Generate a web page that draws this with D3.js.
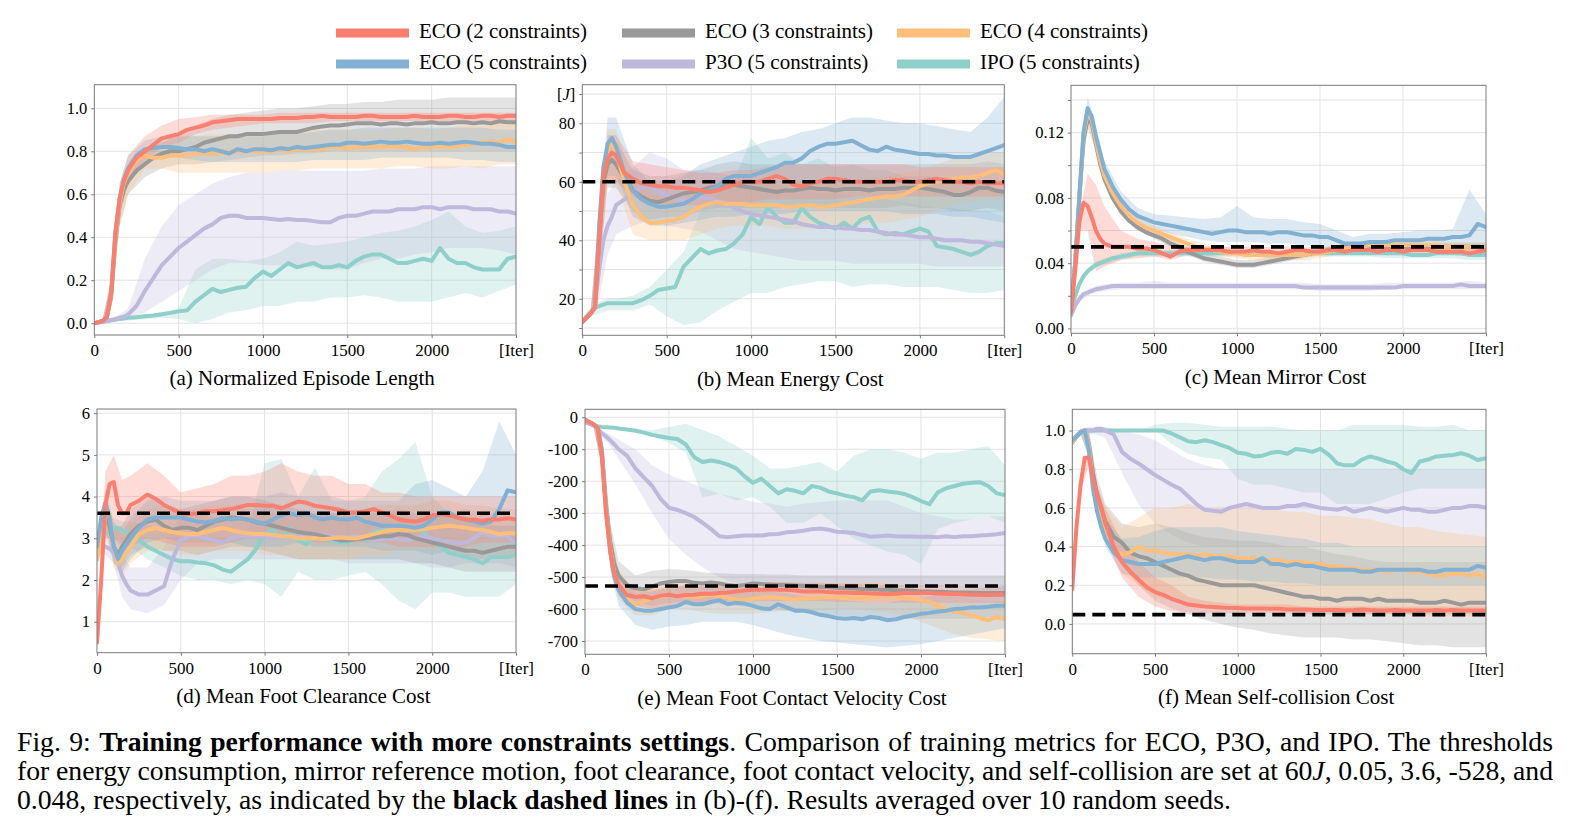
<!DOCTYPE html>
<html><head><meta charset="utf-8">
<script src="https://cdn.jsdelivr.net/npm/d3@7"></script>
<style>
body{margin:0;background:#fff;width:1574px;height:834px;overflow:hidden;position:relative;font-family:"Liberation Serif","Times New Roman",serif;}
svg{position:absolute;left:0;top:0}
#cap{position:absolute;left:17px;top:727px;width:1536px;font-size:27.7px;line-height:29px;color:#000}
#cap .ln{display:block;white-space:nowrap;width:max-content}
</style></head><body>
<div id="cap">
<div class="ln j">Fig. 9: <b>Training performance with more constraints settings</b>. Comparison of training metrics for ECO, P3O, and IPO. The thresholds</div>
<div class="ln j">for energy consumption, mirror reference motion, foot clearance, foot contact velocity, and self-collision are set at 60<i>J</i>, 0.05, 3.6, -528, and</div>
<div class="ln">0.048, respectively, as indicated by the <b>black dashed lines</b> in (b)-(f). Results averaged over 10 random seeds.</div>
</div>
<script>
// ---------- shared x grids ----------
const ITER = [0,25,50,75,100,125,150,175,200,250,300,350,400,450,500,550,600,650,700,750,800,850,900,950,1000,1050,1100,1150,1200,1250,1300,1350,1400,1450,1500,1550,1600,1650,1700,1750,1800,1850,1900,1950,2000,2050,2100,2150,2200,2250,2300,2350,2400,2450,2500];
const ITER_BAND = [0,50,100,150,200,300,400,500,600,700,800,900,1000,1100,1200,1300,1400,1500,1600,1700,1800,1900,2000,2100,2200,2300,2400,2500];
const X_TICKS = [0,500,1000,1500,2000,2500];
const SERIES_KEYS = ["ECO2","ECO3","ECO4","ECO5","P3O","IPO"];
const SERIES_NAMES = ["ECO (2 constraints)","ECO (3 constraints)","ECO (4 constraints)","ECO (5 constraints)","P3O (5 constraints)","IPO (5 constraints)"];

// ---------- (a) Normalized Episode Length ----------
const A_ECO2 = [0,0.005,0.01,0.03,0.14,0.42,0.58,0.66,0.71, 0.77,0.8,0.83,0.86,0.87,0.88,0.9,0.91,0.92,0.935, 0.94,0.945,0.95,0.95,0.95,0.95,0.95,0.955,0.955,0.955, 0.96,0.96,0.965,0.96,0.96,0.96,0.96,0.965,0.965,0.96, 0.96,0.96,0.96,0.965,0.96,0.96,0.96,0.965,0.965,0.96, 0.96,0.965,0.965,0.96,0.965,0.965];
const A_ECO3 = [0,0.005,0.01,0.03,0.12,0.38,0.55,0.62,0.66, 0.71,0.74,0.77,0.79,0.8,0.8,0.81,0.82,0.84,0.85, 0.86,0.87,0.87,0.88,0.88,0.88,0.885,0.89,0.89,0.89, 0.9,0.91,0.915,0.92,0.92,0.925,0.93,0.93,0.93,0.925, 0.93,0.93,0.925,0.93,0.93,0.935,0.93,0.93,0.935,0.935, 0.93,0.935,0.93,0.94,0.935,0.935];
const A_ECO4 = [0,0.005,0.01,0.03,0.13,0.4,0.56,0.65,0.7, 0.76,0.78,0.77,0.77,0.78,0.78,0.78,0.79,0.79,0.79, 0.79,0.8,0.8,0.8,0.8,0.8,0.8,0.81,0.8,0.81, 0.81,0.81,0.81,0.82,0.82,0.815,0.82,0.82,0.82,0.82, 0.825,0.82,0.82,0.81,0.82,0.82,0.825,0.82,0.825,0.83, 0.835,0.84,0.845,0.84,0.855,0.845];
const A_ECO5 = [0,0.005,0.01,0.03,0.14,0.42,0.58,0.67,0.72, 0.78,0.81,0.815,0.82,0.82,0.815,0.81,0.81,0.8,0.81, 0.8,0.79,0.81,0.8,0.81,0.81,0.805,0.815,0.81,0.82, 0.815,0.82,0.825,0.83,0.83,0.84,0.84,0.835,0.84,0.845, 0.84,0.84,0.845,0.84,0.835,0.835,0.84,0.835,0.84,0.845, 0.84,0.835,0.835,0.83,0.82,0.82];
const A_P3O = [0,0.003,0.006,0.01,0.015,0.02,0.025,0.03,0.04, 0.08,0.15,0.21,0.27,0.31,0.35,0.38,0.41,0.44,0.46, 0.49,0.5,0.5,0.49,0.49,0.49,0.485,0.48,0.485,0.48, 0.48,0.475,0.47,0.47,0.49,0.5,0.5,0.51,0.52,0.52, 0.52,0.53,0.53,0.53,0.54,0.54,0.53,0.54,0.54,0.54, 0.53,0.53,0.53,0.52,0.52,0.51];
const A_IPO = [0,0.003,0.006,0.01,0.013,0.016,0.02,0.022,0.025, 0.028,0.032,0.036,0.042,0.048,0.055,0.06,0.1,0.13,0.16, 0.145,0.155,0.165,0.17,0.21,0.24,0.22,0.25,0.28,0.26, 0.27,0.28,0.26,0.26,0.27,0.26,0.29,0.31,0.32,0.32, 0.3,0.28,0.28,0.29,0.3,0.29,0.35,0.3,0.28,0.28, 0.26,0.25,0.25,0.25,0.3,0.31];
const A_ECO2_LO = [0,0.005,0.1,0.5,0.65, 0.75,0.82,0.84,0.88,0.9,0.91,0.92,0.93,0.93,0.93, 0.93,0.94,0.94,0.94,0.94,0.94,0.94,0.94,0.94,0.94, 0.94,0.94,0.94];
const A_ECO2_HI = [0,0.02,0.2,0.65,0.78, 0.87,0.92,0.95,0.96,0.97,0.97,0.97,0.97,0.98,0.98, 0.98,0.98,0.98,0.98,0.98,0.98,0.98,0.98,0.98,0.98, 0.98,0.98,0.98];
const A_ECO3_LO = [0,0.005,0.08,0.45,0.6, 0.68,0.72,0.74,0.74,0.75,0.76,0.77,0.78,0.78,0.79, 0.79,0.8,0.8,0.8,0.8,0.8,0.8,0.8,0.8,0.8, 0.8,0.8,0.8];
const A_ECO3_HI = [0,0.02,0.2,0.62,0.72, 0.8,0.84,0.88,0.92,0.95,0.97,0.98,0.99,1.0,1.0, 1.01,1.02,1.02,1.03,1.03,1.04,1.04,1.04,1.05,1.05, 1.05,1.05,1.05];
const A_ECO4_LO = [0,0.005,0.08,0.45,0.6, 0.72,0.72,0.7,0.7,0.7,0.7,0.7,0.7,0.71,0.71, 0.72,0.72,0.72,0.72,0.72,0.73,0.73,0.72,0.72,0.73, 0.72,0.74,0.74];
const A_ECO4_HI = [0,0.02,0.2,0.62,0.75, 0.82,0.84,0.86,0.87,0.88,0.88,0.88,0.88,0.9,0.9, 0.9,0.9,0.9,0.9,0.9,0.91,0.91,0.9,0.91,0.92, 0.92,0.93,0.94];
const A_ECO5_LO = [0,0.005,0.1,0.5,0.65, 0.76,0.77,0.77,0.76,0.75,0.75,0.75,0.75,0.75,0.75, 0.76,0.76,0.76,0.76,0.77,0.77,0.77,0.77,0.77,0.76, 0.76,0.75,0.75];
const A_ECO5_HI = [0,0.02,0.2,0.65,0.78, 0.85,0.87,0.87,0.87,0.87,0.87,0.87,0.87,0.88,0.88, 0.89,0.9,0.9,0.91,0.91,0.91,0.91,0.91,0.91,0.91, 0.91,0.9,0.9];
const A_P3O_LO = [0,0.003,0.01,0.015,0.02, 0.05,0.1,0.15,0.2,0.25,0.28,0.28,0.27,0.27,0.26, 0.26,0.25,0.25,0.28,0.3,0.3,0.32,0.33,0.35,0.35, 0.35,0.34,0.32];
const A_P3O_HI = [0,0.01,0.02,0.04,0.07, 0.3,0.45,0.55,0.6,0.65,0.68,0.7,0.7,0.71,0.71, 0.71,0.71,0.71,0.71,0.72,0.72,0.72,0.73,0.73,0.73, 0.73,0.73,0.73];
const A_IPO_LO = [0,0.003,0.008,0.01,0.012, 0.018,0.025,0.02,0.0,0.02,0.05,0.06,0.08,0.08,0.1, 0.1,0.12,0.12,0.13,0.12,0.1,0.1,0.1,0.12,0.14, 0.12,0.15,0.18];
const A_IPO_HI = [0,0.01,0.015,0.02,0.03, 0.04,0.05,0.07,0.25,0.3,0.3,0.29,0.3,0.33,0.38, 0.36,0.37,0.38,0.4,0.42,0.43,0.45,0.48,0.52,0.45, 0.42,0.43,0.45];

// ---------- (b) Mean Energy Cost ----------
const B_ECO2 = [12,13.5,15,17,40,62,68,70,69, 63,61,59.5,59,58.5,58.5,58,58,57.5,57, 56.5,57,58,59,60,60,60,61,62,61, 59,58.5,59.5,60,61,61,60.5,60,60,60, 60,60,60.5,60.5,60,60,60.5,61,60.5,60, 60,59.5,60,59.5,59.5,59.5];
const B_ECO3 = [12,13.5,15,17,40,60,66,67.5,66, 61,57,55,53.5,53,54,55,56,56.5,57, 58,58.5,59,59,58.5,58,57.5,57,56.5,57, 57,57.5,58,57.5,57.5,57,57.5,57.5,57.5,57, 57.5,57.5,57.5,58,58,58,57.5,57,56.5,55.5, 55.5,56.5,58,58,57,56.5];
const B_ECO4 = [12,13.5,15,17,42,64,71,73,70, 60,52,48,46,46,46.5,47,48,50,51.5, 52.5,53,52.5,52.5,52.5,52,52,52,52,51.5, 51.5,52,52,51.5,51.5,52,52.5,53,53.5,54, 54.5,55,55,55.5,57,58.5,59.5,60,60.5,61, 61.5,61.5,62,63,64,62.5];
const B_ECO5 = [12,13.5,15,17,45,65,73,75,72, 63,57,54,52.5,51.5,51.5,52,52.5,54,56, 57,58.5,61,62,62,62,63,64,65,66.5, 66.5,68,70.5,72,73,73,73.5,74,72.5,71, 70.5,72,71,70.5,70,69.5,69.5,69,69,68.5, 68.5,68.5,69.5,70.5,71.5,72.5];
const B_P3O = [12,13.5,15,18,30,40,45,48,52, 54,56,58,58.5,56.5,55.5,54.5,53.5,54,54.5, 54.5,53.5,52.5,51,50,49,48.5,48,47.5,47, 46.5,45.5,45,44.5,44.5,44.5,44,44,43.5,43.5, 43,42.5,42,42,41.5,41,41,40.5,40,40, 40,39.5,39.5,39,38.5,38];
const B_IPO = [12,14,15.5,17,17.5,18,18.5,18.5,18.5, 18.5,18.5,19.5,21,23,23.5,24,31,34,37, 35.5,36.5,37,39,42,48,45.5,51.5,48,46, 46,51,48,46,45,44,46,44,47,48, 43,42,42.5,42,43,44,43,38,37.5,37, 36,35,36,38,39,39];
const B_ECO2_LO = [12,14,30,60,60, 55,53,52,52,52,52,52,53,54,54, 54,54,54,55,55,55,55,55,55,55, 55,55,55];
const B_ECO2_HI = [12,16,48,76,76, 67,66,65,64,63,63,64,64,65,66, 66,66,66,66,66,66,66,65,65,65, 65,65,65];
const B_ECO3_LO = [12,14,30,58,58, 50,47,48,48,50,51,51,51,51,51, 52,51,51,51,51,51,52,51,51,50, 50,51,50];
const B_ECO3_HI = [12,16,48,74,74, 64,62,62,63,64,66,67,66,66,66, 66,66,66,66,66,66,66,66,66,66, 66,67,66];
const B_ECO4_LO = [12,14,32,60,60, 42,40,40,40,42,44,45,45,45,44, 44,44,44,45,46,46,47,48,50,52, 53,54,54];
const B_ECO4_HI = [12,16,50,78,78, 60,56,55,57,58,60,60,60,60,60, 60,60,60,60,61,62,63,64,66,68, 69,70,70];
const B_ECO5_LO = [12,14,35,62,62, 48,45,45,46,47,48,48,49,49,49, 50,50,50,50,50,50,49,49,49,48, 48,47,46];
const B_ECO5_HI = [12,16,50,82,82, 66,60,60,62,66,68,70,72,74,75, 77,78,80,82,82,81,80,80,79,78, 77,82,89];
const B_P3O_LO = [12,14,20,35,42, 45,47,45,44,43,40,37,36,35,34, 33,33,33,32,32,32,32,32,31,31, 31,31,31];
const B_P3O_HI = [12,16,38,56,60, 65,70,68,64,64,63,62,61,60,58, 57,56,56,55,55,54,53,52,51,51, 50,50,48];
const B_IPO_LO = [12,14,15,16,16, 16,18,14,11,12,16,19,22,22,24, 25,26,26,24,25,25,24,24,24,23, 22,22,23];
const B_IPO_HI = [12,17,19,20,20, 21,24,30,36,50,56,60,75,68,70, 66,68,65,66,64,64,62,62,62,60, 60,58,56];

// ---------- (c) Mean Mirror Cost ----------
const C_ECO2 = [0.01,0.035,0.065,0.077,0.075,0.068,0.06,0.055,0.052, 0.05,0.05,0.05,0.049,0.049,0.048,0.046,0.044,0.047,0.048, 0.048,0.048,0.048,0.048,0.047,0.047,0.047,0.048,0.047,0.047, 0.046,0.047,0.048,0.048,0.047,0.047,0.048,0.048,0.047,0.048, 0.048,0.048,0.047,0.048,0.048,0.047,0.048,0.048,0.048,0.047, 0.047,0.047,0.047,0.046,0.047,0.048];
const C_ECO3 = [0.01,0.04,0.08,0.115,0.128,0.126,0.113,0.101,0.092, 0.08,0.072,0.066,0.062,0.059,0.057,0.055,0.052,0.05,0.047, 0.045,0.043,0.042,0.041,0.04,0.039,0.039,0.039,0.04,0.041, 0.042,0.043,0.044,0.045,0.046,0.047,0.048,0.049,0.05,0.05, 0.05,0.05,0.05,0.05,0.05,0.05,0.05,0.05,0.05,0.05, 0.05,0.05,0.05,0.05,0.05,0.05];
const C_ECO4 = [0.01,0.04,0.08,0.118,0.132,0.128,0.115,0.103,0.094, 0.083,0.075,0.069,0.065,0.062,0.06,0.058,0.056,0.054,0.052, 0.05,0.049,0.048,0.047,0.046,0.046,0.045,0.045,0.045,0.045, 0.045,0.045,0.045,0.045,0.046,0.046,0.047,0.048,0.049,0.05, 0.05,0.051,0.051,0.051,0.051,0.051,0.051,0.051,0.051,0.051, 0.05,0.05,0.05,0.05,0.05,0.05];
const C_ECO5 = [0.01,0.04,0.08,0.12,0.135,0.13,0.118,0.108,0.098, 0.087,0.079,0.073,0.069,0.067,0.065,0.064,0.063,0.062,0.061, 0.06,0.059,0.058,0.059,0.06,0.06,0.059,0.059,0.059,0.058, 0.059,0.059,0.058,0.057,0.057,0.056,0.056,0.054,0.052,0.052, 0.052,0.053,0.053,0.053,0.054,0.054,0.054,0.054,0.055,0.055, 0.055,0.056,0.056,0.057,0.064,0.062];
const C_P3O = [0.008,0.014,0.018,0.021,0.022,0.023,0.024,0.0245,0.025, 0.026,0.026,0.026,0.026,0.026,0.026,0.026,0.026,0.026,0.026, 0.026,0.026,0.026,0.026,0.026,0.026,0.026,0.026,0.026,0.026, 0.026,0.026,0.026,0.025,0.025,0.025,0.025,0.025,0.025,0.025, 0.025,0.025,0.025,0.025,0.025,0.026,0.026,0.026,0.026,0.026, 0.026,0.026,0.027,0.026,0.026,0.026];
const C_IPO = [0.01,0.02,0.027,0.032,0.035,0.037,0.039,0.04,0.041, 0.043,0.044,0.045,0.046,0.046,0.046,0.046,0.046,0.046,0.046, 0.046,0.046,0.046,0.046,0.046,0.046,0.046,0.046,0.046,0.045, 0.045,0.045,0.045,0.045,0.046,0.046,0.046,0.046,0.046,0.046, 0.046,0.046,0.046,0.046,0.046,0.046,0.045,0.045,0.045,0.046, 0.046,0.046,0.046,0.045,0.045,0.045];
const C_ECO2_LO = [0.009,0.06,0.06,0.035,0.038, 0.042,0.043,0.044,0.042,0.045,0.046,0.046,0.045,0.045,0.045, 0.045,0.045,0.045,0.046,0.046,0.046,0.046,0.046,0.046,0.045, 0.045,0.044,0.045];
const C_ECO2_HI = [0.011,0.07,0.095,0.088,0.075, 0.06,0.055,0.053,0.051,0.05,0.05,0.05,0.05,0.05,0.05, 0.05,0.05,0.05,0.05,0.05,0.05,0.05,0.05,0.05,0.05, 0.05,0.049,0.05];
const C_ECO3_LO = [0.009,0.077,0.123,0.109,0.088, 0.069,0.06,0.055,0.05,0.045,0.041,0.039,0.037,0.037,0.039, 0.041,0.043,0.045,0.047,0.048,0.048,0.048,0.048,0.048,0.048, 0.048,0.048,0.048];
const C_ECO3_HI = [0.011,0.083,0.133,0.117,0.096, 0.075,0.065,0.06,0.055,0.05,0.046,0.044,0.042,0.042,0.044, 0.046,0.048,0.049,0.051,0.052,0.052,0.052,0.052,0.052,0.052, 0.052,0.052,0.052];
const C_ECO4_LO = [0.009,0.077,0.127,0.111,0.09, 0.072,0.062,0.057,0.053,0.049,0.046,0.044,0.043,0.042,0.042, 0.042,0.042,0.043,0.045,0.047,0.048,0.048,0.048,0.048,0.048, 0.047,0.047,0.047];
const C_ECO4_HI = [0.011,0.083,0.137,0.119,0.098, 0.078,0.068,0.063,0.059,0.055,0.052,0.05,0.049,0.048,0.048, 0.048,0.048,0.049,0.051,0.053,0.054,0.054,0.054,0.054,0.054, 0.053,0.053,0.053];
const C_ECO5_LO = [0.009,0.076,0.129,0.112,0.093, 0.075,0.065,0.061,0.058,0.056,0.054,0.053,0.053,0.053,0.052, 0.052,0.051,0.05,0.049,0.048,0.048,0.048,0.049,0.049,0.049, 0.05,0.05,0.052];
const C_ECO5_HI = [0.011,0.084,0.142,0.124,0.103, 0.084,0.074,0.07,0.069,0.068,0.067,0.068,0.075,0.068,0.067, 0.067,0.065,0.064,0.06,0.056,0.058,0.058,0.059,0.06,0.06, 0.061,0.085,0.07];
const C_P3O_LO = [0.007,0.016,0.02,0.022,0.023, 0.024,0.024,0.024,0.024,0.024,0.024,0.024,0.024,0.024,0.024, 0.024,0.024,0.023,0.023,0.023,0.023,0.024,0.024,0.024,0.024, 0.024,0.024,0.024];
const C_P3O_HI = [0.009,0.02,0.024,0.026,0.027, 0.028,0.028,0.029,0.028,0.028,0.028,0.028,0.028,0.028,0.028, 0.028,0.028,0.027,0.027,0.027,0.027,0.028,0.028,0.028,0.028, 0.028,0.029,0.028];
const C_IPO_LO = [0.009,0.025,0.033,0.037,0.039, 0.042,0.044,0.044,0.044,0.044,0.044,0.044,0.044,0.044,0.043, 0.043,0.044,0.044,0.044,0.044,0.044,0.043,0.043,0.043,0.043, 0.043,0.042,0.042];
const C_IPO_HI = [0.011,0.029,0.037,0.041,0.043, 0.046,0.048,0.048,0.048,0.048,0.048,0.048,0.048,0.048,0.047, 0.047,0.048,0.048,0.048,0.048,0.048,0.048,0.048,0.048,0.048, 0.048,0.048,0.048];

// ---------- (d) Mean Foot Clearance Cost ----------
const D_ECO2 = [0.5,2.0,3.8,4.3,4.35,3.8,3.6,3.6,3.8, 3.9,4.05,3.95,3.8,3.7,3.6,3.58,3.6,3.65,3.65, 3.68,3.7,3.75,3.8,3.8,3.78,3.78,3.72,3.8,3.88, 3.85,3.78,3.75,3.72,3.68,3.62,3.62,3.65,3.7,3.62, 3.55,3.45,3.42,3.4,3.45,3.55,3.58,3.55,3.5,3.45, 3.45,3.42,3.45,3.45,3.48,3.45];
const D_ECO3 = [2.9,3.3,3.6,3.3,2.8,2.6,2.8,2.95,3.1, 3.3,3.4,3.45,3.3,3.2,3.25,3.25,3.2,3.3,3.4, 3.45,3.5,3.48,3.45,3.38,3.35,3.3,3.25,3.2,3.15, 3.12,3.1,3.05,3.0,2.95,2.95,2.98,3.0,3.02,3.05, 3.05,3.1,3.08,3.0,2.95,2.9,2.85,2.8,2.75,2.7, 2.7,2.65,2.7,2.75,2.8,2.8];
const D_ECO4 = [2.5,3.0,3.5,3.6,2.8,2.4,2.5,2.65,2.8, 3.1,3.2,3.25,3.2,3.15,3.12,3.1,3.1,3.15,3.2, 3.25,3.2,3.15,3.12,3.1,3.1,3.08,3.05,3.05,3.0, 3.0,3.0,2.98,3.0,3.02,3.0,3.0,3.05,3.1,3.15, 3.2,3.2,3.2,3.2,3.22,3.25,3.28,3.3,3.28,3.25, 3.22,3.2,3.15,3.1,3.12,3.12];
const D_ECO5 = [2.8,3.5,3.85,3.5,2.8,2.5,2.7,2.85,3.0, 3.25,3.45,3.5,3.5,3.5,3.5,3.45,3.4,3.38,3.42, 3.48,3.45,3.48,3.45,3.4,3.35,3.45,3.55,3.6,3.55, 3.6,3.5,3.45,3.5,3.45,3.45,3.5,3.4,3.35,3.3, 3.3,3.3,3.28,3.25,3.3,3.45,3.62,3.62,3.5,3.45, 3.4,3.35,3.4,3.7,4.15,4.1];
const D_P3O = [2.8,2.8,2.8,2.75,2.65,2.4,2.1,1.9,1.75, 1.65,1.65,1.75,1.85,2.5,2.95,3.05,3.05,3.0,2.95, 2.9,3.0,3.05,3.05,3.05,3.05,3.0,3.02,3.05,3.05, 3.08,3.1,3.08,3.05,3.02,3.02,3.05,3.0,2.95,2.98, 3.0,2.98,2.95,3.0,3.05,3.0,2.95,2.92,2.88,2.9, 3.0,3.15,3.05,3.05,3.05,2.85];
const D_IPO = [3.0,3.05,3.1,3.2,3.25,3.25,3.2,3.15,3.1, 2.95,2.8,2.7,2.6,2.5,2.45,2.45,2.42,2.4,2.35, 2.25,2.2,2.35,2.5,2.75,3.1,3.2,3.0,3.25,2.95, 2.85,3.1,3.0,2.95,2.9,2.9,3.05,2.95,3.15,3.2, 3.2,3.2,3.2,3.25,3.15,2.95,2.8,2.65,2.6,2.55, 2.5,2.4,2.55,2.55,2.55,2.6];
const D_ECO2_LO = [0.5,3.0,3.0,2.8,2.8, 3.0,2.9,2.8,2.8,2.8,2.9,3.0,3.0,3.0,3.0, 2.9,2.9,2.9,2.9,2.9,2.8,2.8,2.8,2.8,2.8, 2.9,2.9,2.9];
const D_ECO2_HI = [0.6,4.6,5.0,4.4,4.5, 4.8,4.5,4.1,4.2,4.3,4.5,4.5,4.6,4.8,4.6, 4.5,4.5,4.3,4.3,4.1,4.1,4.0,4.0,4.0,4.0, 4.0,4.0,4.0];
const D_ECO3_LO = [2.7,3.2,2.4,2.3,2.6, 2.8,2.7,2.7,2.6,2.7,2.8,2.8,2.7,2.6,2.5, 2.5,2.5,2.5,2.5,2.5,2.5,2.4,2.4,2.3,2.2, 2.2,2.2,2.2];
const D_ECO3_HI = [3.1,4.0,3.2,3.3,3.7, 4.0,3.8,3.7,3.8,3.9,4.0,4.0,3.9,3.8,3.7, 3.6,3.6,3.6,3.6,3.6,3.7,3.6,3.6,3.5,3.4, 3.3,3.3,3.3];
const D_ECO4_LO = [2.3,3.2,2.3,2.1,2.4, 2.7,2.7,2.6,2.6,2.7,2.7,2.7,2.6,2.6,2.5, 2.5,2.5,2.5,2.6,2.6,2.7,2.7,2.7,2.7,2.6, 2.5,2.5,2.5];
const D_ECO4_HI = [2.7,3.8,3.3,3.2,3.4, 3.7,3.8,3.7,3.7,3.8,3.8,3.7,3.6,3.6,3.5, 3.5,3.5,3.6,3.7,3.8,3.8,3.8,3.9,3.9,3.8, 3.8,3.7,3.7];
const D_ECO5_LO = [2.6,3.4,2.4,2.2,2.5, 2.9,3.0,2.9,2.9,2.9,2.9,2.8,2.8,2.8,2.9, 2.8,2.8,2.8,2.8,2.7,2.7,2.7,2.6,2.7,2.6, 2.5,2.6,2.6];
const D_ECO5_HI = [3.0,4.2,3.4,3.1,3.5, 3.9,4.0,3.9,3.9,3.9,4.0,4.0,4.0,4.1,4.0, 4.0,4.0,3.9,3.9,3.9,3.9,4.3,4.4,4.2,4.0, 4.6,5.8,5.0];
const D_P3O_LO = [2.6,2.6,2.4,1.6,1.3, 1.2,1.4,2.0,2.4,2.5,2.5,2.5,2.5,2.5,2.5, 2.5,2.5,2.4,2.4,2.4,2.4,2.4,2.3,2.3,2.4, 2.4,2.4,2.3];
const D_P3O_HI = [3.0,3.0,2.9,2.6,2.3, 2.3,2.8,3.6,3.6,3.5,3.5,3.5,3.6,3.6,3.6, 3.6,3.6,3.5,3.5,3.5,3.5,3.5,3.5,3.6,3.7, 3.6,3.6,3.5];
const D_IPO_LO = [2.9,3.0,3.0,2.9,2.8, 2.5,2.3,2.1,2.0,2.0,1.9,2.0,1.9,1.6,2.2, 2.0,2.0,2.1,2.2,1.9,1.5,1.3,1.7,1.7,1.6, 1.6,1.6,1.9];
const D_IPO_HI = [3.1,3.3,3.5,3.4,3.4, 3.3,3.2,3.0,3.0,3.0,3.0,3.2,4.8,4.9,4.0, 4.7,3.9,3.9,4.0,4.6,4.9,5.3,4.0,3.6,3.4, 3.4,3.3,3.3];

// ---------- (e) Mean Foot Contact Velocity Cost ----------
const E_ECO2 = [-8,-15,-22,-32,-120,-300,-420,-490,-525, -556,-562,-560,-566,-558,-555,-560,-556,-555,-552, -552,-550,-548,-545,-542,-540,-540,-538,-540,-540, -542,-545,-545,-545,-547,-548,-548,-550,-550,-551, -552,-553,-552,-550,-550,-550,-550,-551,-552,-553, -554,-555,-555,-556,-555,-555];
const E_ECO3 = [-8,-15,-22,-32,-100,-270,-390,-460,-495, -525,-535,-538,-530,-520,-515,-512,-512,-518,-520, -517,-520,-525,-528,-525,-520,-522,-523,-525,-525, -526,-528,-530,-530,-532,-533,-535,-536,-537,-538, -540,-540,-541,-542,-543,-545,-545,-546,-547,-548, -548,-549,-550,-550,-550,-550];
const E_ECO4 = [-8,-15,-22,-32,-110,-280,-410,-490,-530, -570,-585,-575,-565,-560,-556,-558,-560,-562,-560, -555,-560,-565,-570,-570,-568,-565,-563,-565,-568, -570,-568,-566,-565,-562,-562,-565,-565,-565,-563, -560,-558,-562,-565,-568,-572,-578,-590,-600,-608, -612,-620,-628,-635,-625,-632];
const E_ECO5 = [-8,-15,-22,-32,-110,-290,-420,-500,-540, -580,-600,-605,-605,-600,-595,-590,-578,-585,-585, -578,-572,-585,-580,-583,-590,-598,-600,-585,-595, -605,-605,-610,-618,-622,-628,-630,-628,-632,-625, -628,-635,-632,-625,-620,-615,-612,-608,-605,-600, -598,-595,-595,-593,-590,-590];
const E_P3O = [-15,-20,-25,-35,-50,-60,-72,-85,-100, -120,-160,-188,-215,-255,-283,-290,-300,-312,-330, -350,-372,-375,-372,-370,-370,-370,-366,-365,-360, -358,-355,-350,-348,-352,-358,-360,-362,-368,-374, -372,-370,-372,-373,-373,-374,-374,-375,-372,-375, -372,-372,-370,-368,-366,-362];
const E_IPO = [-15,-20,-25,-28,-30,-31,-32,-33,-35, -38,-42,-48,-55,-60,-65,-68,-85,-125,-140, -135,-140,-148,-160,-185,-205,-192,-215,-238,-225, -230,-238,-215,-220,-232,-238,-245,-250,-260,-232, -228,-232,-235,-240,-250,-262,-272,-235,-222,-215, -208,-205,-203,-215,-238,-243];
const E_ECO2_LO = [-10,-28,-160,-470,-560, -590,-600,-590,-585,-582,-575,-575,-575,-575,-575, -575,-575,-578,-578,-580,-580,-580,-580,-580,-580, -580,-580,-582];
const E_ECO2_HI = [-6,-18,-80,-360,-490, -540,-540,-530,-528,-528,-525,-522,-520,-515,-515, -518,-518,-520,-520,-525,-525,-525,-525,-525,-528, -530,-530,-530];
const E_ECO3_LO = [-10,-28,-140,-440,-540, -580,-590,-580,-575,-580,-585,-590,-595,-600,-605, -610,-615,-620,-625,-630,-630,-630,-630,-630,-630, -630,-625,-625];
const E_ECO3_HI = [-6,-18,-60,-330,-450, -495,-480,-475,-478,-485,-488,-490,-490,-492,-492, -495,-495,-495,-495,-495,-495,-495,-495,-495,-495, -495,-495,-495];
const E_ECO4_LO = [-10,-28,-150,-470,-570, -620,-620,-600,-600,-610,-615,-615,-615,-610,-605, -605,-605,-600,-600,-605,-610,-620,-640,-660,-680, -690,-695,-700];
const E_ECO4_HI = [-6,-18,-70,-350,-480, -540,-525,-520,-515,-520,-520,-522,-525,-520,-520, -520,-520,-520,-520,-515,-520,-530,-540,-550,-560, -570,-575,-575];
const E_ECO5_LO = [-10,-28,-160,-480,-590, -650,-665,-655,-650,-640,-640,-640,-650,-665,-680, -690,-700,-705,-710,-715,-720,-715,-710,-700,-690, -680,-670,-660];
const E_ECO5_HI = [-6,-18,-70,-360,-490, -550,-545,-535,-525,-530,-530,-530,-540,-545,-550, -560,-565,-570,-575,-580,-580,-570,-565,-555,-545, -540,-530,-525];
const E_P3O_LO = [-15,-28,-60,-90,-130, -210,-300,-380,-430,-470,-500,-520,-525,-525,-530, -530,-530,-530,-530,-530,-530,-530,-530,-530,-530, -530,-530,-530];
const E_P3O_HI = [-12,-20,-40,-55,-70, -100,-150,-180,-200,-220,-240,-250,-265,-270,-280, -270,-265,-260,-260,-260,-260,-280,-300,-310,-320, -320,-310,-310];
const E_IPO_LO = [-15,-27,-32,-35,-38, -45,-60,-80,-110,-250,-240,-260,-250,-280,-330, -330,-300,-340,-380,-400,-420,-430,-460,-350,-330, -320,-310,-330];
const E_IPO_HI = [-12,-22,-28,-30,-32, -36,-40,-30,-20,-40,-60,-90,-120,-160,-160, -150,-140,-170,-120,-100,-100,-110,-130,-110,-110, -100,-90,-150];

// ---------- (f) Mean Self-collision Cost ----------
const F_ECO2 = [0.18,0.5,0.72,0.86,0.86,0.75,0.66,0.6,0.52, 0.4,0.32,0.27,0.23,0.19,0.165,0.15,0.13,0.115,0.1, 0.095,0.09,0.088,0.085,0.083,0.082,0.08,0.08,0.08,0.078, 0.078,0.075,0.075,0.075,0.073,0.072,0.072,0.072,0.07,0.072, 0.075,0.072,0.07,0.07,0.072,0.07,0.07,0.07,0.07,0.072, 0.07,0.072,0.07,0.07,0.07,0.07];
const F_ECO3 = [0.94,0.97,0.99,1.0,0.93,0.78,0.67,0.6,0.53, 0.45,0.42,0.37,0.35,0.34,0.32,0.3,0.28,0.26,0.25, 0.23,0.22,0.21,0.2,0.2,0.2,0.2,0.2,0.19,0.18, 0.17,0.16,0.15,0.14,0.14,0.13,0.13,0.12,0.13,0.13, 0.13,0.12,0.13,0.12,0.12,0.12,0.12,0.11,0.11,0.11, 0.12,0.11,0.1,0.11,0.11,0.11];
const F_ECO4 = [0.94,0.97,0.99,1.0,0.92,0.72,0.6,0.52,0.45, 0.38,0.36,0.37,0.4,0.38,0.38,0.37,0.36,0.36,0.36, 0.35,0.36,0.35,0.35,0.35,0.34,0.34,0.34,0.33,0.33, 0.33,0.32,0.32,0.32,0.31,0.31,0.3,0.3,0.29,0.29, 0.28,0.28,0.28,0.27,0.28,0.28,0.27,0.27,0.26,0.25, 0.25,0.26,0.26,0.25,0.26,0.24];
const F_ECO5 = [0.95,0.97,0.99,1.0,0.9,0.7,0.58,0.5,0.44, 0.37,0.33,0.32,0.31,0.31,0.31,0.32,0.33,0.34,0.35, 0.34,0.33,0.34,0.34,0.33,0.32,0.32,0.32,0.34,0.31, 0.31,0.3,0.31,0.3,0.3,0.29,0.28,0.28,0.28,0.28, 0.27,0.27,0.28,0.28,0.28,0.28,0.28,0.28,0.27,0.27, 0.28,0.28,0.28,0.28,0.3,0.29];
const F_P3O = [0.94,0.97,0.99,1.0,1.0,1.0,1.01,1.01,1.0, 0.98,0.89,0.855,0.83,0.8,0.77,0.745,0.72,0.7,0.66, 0.62,0.59,0.585,0.58,0.6,0.61,0.62,0.61,0.6,0.6, 0.6,0.61,0.61,0.62,0.61,0.6,0.595,0.59,0.6,0.58, 0.59,0.6,0.59,0.58,0.59,0.6,0.59,0.59,0.58,0.58, 0.59,0.6,0.6,0.61,0.61,0.6];
const F_IPO = [0.94,0.97,0.99,1.0,1.0,1.0,1.0,1.0,1.0, 1.0,1.0,1.0,1.0,1.0,1.0,1.0,0.985,0.965,0.945, 0.94,0.95,0.94,0.925,0.91,0.885,0.88,0.866,0.87,0.885, 0.89,0.88,0.905,0.9,0.89,0.905,0.875,0.83,0.82,0.82, 0.85,0.866,0.855,0.84,0.83,0.8,0.78,0.84,0.85,0.866, 0.87,0.874,0.883,0.87,0.848,0.857];
const F_ECO2_LO = [0.15,0.68,0.82,0.58,0.44, 0.24,0.14,0.09,0.065,0.06,0.055,0.055,0.055,0.055,0.055, 0.055,0.05,0.05,0.05,0.05,0.05,0.05,0.05,0.05,0.05, 0.05,0.05,0.05];
const F_ECO2_HI = [0.21,0.78,0.9,0.72,0.6, 0.42,0.32,0.24,0.2,0.14,0.12,0.11,0.1,0.1,0.1, 0.1,0.09,0.09,0.09,0.09,0.09,0.09,0.09,0.09,0.09, 0.09,0.09,0.09];
const F_ECO3_LO = [0.92,0.98,0.88,0.6,0.45, 0.3,0.2,0.12,0.08,0.05,0.02,0.0,-0.02,-0.03,-0.05, -0.06,-0.07,-0.07,-0.07,-0.08,-0.08,-0.09,-0.1,-0.11,-0.11, -0.12,-0.12,-0.12];
const F_ECO3_HI = [0.96,1.01,1.0,0.76,0.62, 0.52,0.5,0.52,0.5,0.47,0.45,0.44,0.43,0.43,0.42, 0.4,0.4,0.38,0.36,0.35,0.33,0.32,0.32,0.32,0.32, 0.32,0.32,0.32];
const F_ECO4_LO = [0.92,0.98,0.86,0.56,0.42, 0.26,0.2,0.14,0.12,0.1,0.09,0.08,0.08,0.08,0.07, 0.07,0.06,0.06,0.06,0.06,0.05,0.05,0.05,0.04,0.04, 0.04,0.04,0.04];
const F_ECO4_HI = [0.96,1.01,1.0,0.72,0.6, 0.5,0.55,0.6,0.6,0.62,0.6,0.6,0.6,0.6,0.6, 0.58,0.58,0.56,0.56,0.55,0.54,0.52,0.5,0.5,0.48, 0.47,0.46,0.45];
const F_ECO5_LO = [0.92,0.98,0.86,0.55,0.4, 0.26,0.24,0.24,0.24,0.24,0.24,0.23,0.23,0.22,0.22, 0.21,0.21,0.2,0.2,0.2,0.2,0.2,0.2,0.2,0.2, 0.2,0.2,0.2];
const F_ECO5_HI = [0.96,1.01,1.0,0.7,0.55, 0.44,0.45,0.48,0.5,0.5,0.5,0.5,0.48,0.47,0.46, 0.45,0.44,0.42,0.42,0.4,0.4,0.4,0.4,0.4,0.4, 0.4,0.4,0.4];
const F_P3O_LO = [0.92,0.98,0.98,0.98,0.96, 0.78,0.62,0.52,0.46,0.42,0.4,0.4,0.4,0.4,0.4, 0.4,0.4,0.4,0.4,0.4,0.4,0.4,0.4,0.4,0.4, 0.4,0.4,0.4];
const F_P3O_HI = [0.96,1.01,1.02,1.02,1.02, 1.0,0.98,0.95,0.9,0.85,0.82,0.8,0.8,0.8,0.8, 0.8,0.8,0.8,0.8,0.8,0.8,0.8,0.8,0.8,0.8, 0.8,0.8,0.8];
const F_IPO_LO = [0.92,0.98,1.0,1.0,1.0, 1.0,1.0,1.0,0.93,0.88,0.86,0.85,0.75,0.72,0.72, 0.7,0.68,0.68,0.62,0.62,0.62,0.65,0.68,0.7,0.7, 0.7,0.7,0.7];
const F_IPO_HI = [0.96,1.0,1.0,1.0,1.0, 1.0,1.0,1.03,1.04,1.04,1.03,1.02,1.02,1.02,1.02, 1.01,1.0,1.0,1.0,1.03,1.03,1.03,1.03,1.02,1.02, 1.03,1.0,1.0];

// ---------- axis tick values & thresholds ----------
const A_YTICKS = [0,0.2,0.4,0.6,0.8,1.0];
const B_YTICKS = [10,20,30,40,50,60,70,80,90];
const C_YTICKS = [0,0.02,0.04,0.06,0.08,0.1,0.12,0.14];
const D_YTICKS = [1,2,3,4,5,6];
const E_YTICKS = [0,-100,-200,-300,-400,-500,-600,-700];
const F_YTICKS = [0,0.2,0.4,0.6,0.8,1.0];
const THRESHOLDS = {b:60, c:0.05, d:3.6, e:-528, f:0.048};
const CAPTIONS = {a:"(a) Normalized Episode Length", b:"(b) Mean Energy Cost", c:"(c) Mean Mirror Cost", d:"(d) Mean Foot Clearance Cost", e:"(e) Mean Foot Contact Velocity Cost", f:"(f) Mean Self-collision Cost"};

// ---------- styles ----------
const COLOR = {ECO2:"#FA7F6F", ECO3:"#999999", ECO4:"#FFBE7A", ECO5:"#82B0D2", P3O:"#BEB8DC", IPO:"#8ECFC9"};
const DRAW_ORDER = ["IPO","P3O","ECO3","ECO4","ECO5","ECO2"];
const FONT = '"Liberation Serif","Times New Roman",serif';

const DATA = {
 a:{ECO2:[A_ECO2,A_ECO2_LO,A_ECO2_HI],ECO3:[A_ECO3,A_ECO3_LO,A_ECO3_HI],ECO4:[A_ECO4,A_ECO4_LO,A_ECO4_HI],ECO5:[A_ECO5,A_ECO5_LO,A_ECO5_HI],P3O:[A_P3O,A_P3O_LO,A_P3O_HI],IPO:[A_IPO,A_IPO_LO,A_IPO_HI]},
 b:{ECO2:[B_ECO2,B_ECO2_LO,B_ECO2_HI],ECO3:[B_ECO3,B_ECO3_LO,B_ECO3_HI],ECO4:[B_ECO4,B_ECO4_LO,B_ECO4_HI],ECO5:[B_ECO5,B_ECO5_LO,B_ECO5_HI],P3O:[B_P3O,B_P3O_LO,B_P3O_HI],IPO:[B_IPO,B_IPO_LO,B_IPO_HI]},
 c:{ECO2:[C_ECO2,C_ECO2_LO,C_ECO2_HI],ECO3:[C_ECO3,C_ECO3_LO,C_ECO3_HI],ECO4:[C_ECO4,C_ECO4_LO,C_ECO4_HI],ECO5:[C_ECO5,C_ECO5_LO,C_ECO5_HI],P3O:[C_P3O,C_P3O_LO,C_P3O_HI],IPO:[C_IPO,C_IPO_LO,C_IPO_HI]},
 d:{ECO2:[D_ECO2,D_ECO2_LO,D_ECO2_HI],ECO3:[D_ECO3,D_ECO3_LO,D_ECO3_HI],ECO4:[D_ECO4,D_ECO4_LO,D_ECO4_HI],ECO5:[D_ECO5,D_ECO5_LO,D_ECO5_HI],P3O:[D_P3O,D_P3O_LO,D_P3O_HI],IPO:[D_IPO,D_IPO_LO,D_IPO_HI]},
 e:{ECO2:[E_ECO2,E_ECO2_LO,E_ECO2_HI],ECO3:[E_ECO3,E_ECO3_LO,E_ECO3_HI],ECO4:[E_ECO4,E_ECO4_LO,E_ECO4_HI],ECO5:[E_ECO5,E_ECO5_LO,E_ECO5_HI],P3O:[E_P3O,E_P3O_LO,E_P3O_HI],IPO:[E_IPO,E_IPO_LO,E_IPO_HI]},
 f:{ECO2:[F_ECO2,F_ECO2_LO,F_ECO2_HI],ECO3:[F_ECO3,F_ECO3_LO,F_ECO3_HI],ECO4:[F_ECO4,F_ECO4_LO,F_ECO4_HI],ECO5:[F_ECO5,F_ECO5_LO,F_ECO5_HI],P3O:[F_P3O,F_P3O_LO,F_P3O_HI],IPO:[F_IPO,F_IPO_LO,F_IPO_HI]}
};

// layout of each panel (pixel boxes) and y-domain
const LAYOUT = {
 a:{l:94.3,r:516,t:84.7,b:335,yd:[-0.055,1.11],ticks:A_YTICKS,fmt:d=>d3.format(".1f")(d)},
 b:{l:582.3,r:1004.3,t:84.7,b:335.3,yd:[7.5,93.2],ticks:B_YTICKS,fmt:d=>(d===90?"[J]":(d%20===0?String(d):""))},
 c:{l:1071,r:1486,t:85.3,b:333.3,yd:[-0.003,0.149],ticks:C_YTICKS,fmt:d=>([0,0.04,0.08,0.12].some(v=>Math.abs(v-d)<1e-9)?d3.format(".2f")(d):"")},
 d:{l:97,r:516,t:409,b:652.7,yd:[0.257,6.1],ticks:D_YTICKS,fmt:d=>String(d)},
 e:{l:585,r:1005,t:409.3,b:654.3,yd:[-741.6,25],ticks:E_YTICKS,fmt:d=>String(d)},
 f:{l:1072.3,r:1486,t:409.3,b:653.7,yd:[-0.154,1.11],ticks:F_YTICKS,fmt:d=>d3.format(".1f")(d)}
};

const svg = d3.select("body").append("svg").attr("width",1574).attr("height",834);
const mismatches = [];

Object.keys(LAYOUT).forEach(id => {
  const L = LAYOUT[id];
  const x = d3.scaleLinear().domain([0,2500]).range([L.l, L.r]);
  const y = d3.scaleLinear().domain(L.yd).range([L.b, L.t]);
  const g = svg.append("g");
  const clipId = "clip-"+id;
  svg.append("clipPath").attr("id",clipId).append("rect")
     .attr("x",L.l).attr("y",L.t).attr("width",L.r-L.l).attr("height",L.b-L.t);

  // grid
  const grid = g.append("g");
  grid.selectAll("line.h").data(L.ticks).join("line")
     .attr("x1",L.l).attr("x2",L.r).attr("y1",d=>y(d)).attr("y2",d=>y(d))
     .attr("stroke","#e3e3e3").attr("stroke-width",1);
  grid.selectAll("line.v").data([500,1000,1500,2000]).join("line")
     .attr("y1",L.t).attr("y2",L.b).attr("x1",d=>x(d)).attr("x2",d=>x(d))
     .attr("stroke","#e3e3e3").attr("stroke-width",1);

  const plot = g.append("g").attr("clip-path","url(#"+clipId+")");
  const D = DATA[id];
  // bands
  DRAW_ORDER.forEach(k => {
    const lo = D[k][1], hi = D[k][2];
    if (lo.length !== ITER_BAND.length || hi.length !== ITER_BAND.length) mismatches.push(id+k+" band "+lo.length+"/"+hi.length);
    const n = Math.min(lo.length, hi.length, ITER_BAND.length);
    const pts = d3.range(n).map(i => [ITER_BAND[i], lo[i], hi[i]]);
    plot.append("path").datum(pts)
      .attr("d", d3.area().x(p=>x(p[0])).y0(p=>y(p[1])).y1(p=>y(p[2])))
      .attr("fill", COLOR[k]).attr("fill-opacity", 0.28).attr("stroke","none");
  });
  // mean lines
  DRAW_ORDER.forEach(k => {
    const m = D[k][0];
    if (m.length !== ITER.length) mismatches.push(id+k+" mean "+m.length);
    const n = Math.min(m.length, ITER.length);
    const pts = d3.range(n).map(i => [ITER[i], m[i]]);
    plot.append("path").datum(pts)
      .attr("d", d3.line().x(p=>x(p[0])).y(p=>y(p[1])))
      .attr("fill","none").attr("stroke",COLOR[k]).attr("stroke-width",4)
      .attr("stroke-linejoin","round").attr("stroke-linecap","round");
  });
  // threshold
  if (THRESHOLDS[id] !== undefined) {
    g.append("line").attr("x1",L.l).attr("x2",L.r)
      .attr("y1",y(THRESHOLDS[id])).attr("y2",y(THRESHOLDS[id]))
      .attr("stroke","#000").attr("stroke-width",3.6).attr("stroke-dasharray","13,7");
  }
  // frame
  g.append("rect").attr("x",L.l).attr("y",L.t).attr("width",L.r-L.l).attr("height",L.b-L.t)
    .attr("fill","none").attr("stroke","#7a7a7a").attr("stroke-width",1);

  // axes
  const ay = g.append("g").attr("transform","translate("+L.l+",0)")
    .call(d3.axisLeft(y).tickValues(L.ticks).tickFormat(L.fmt).tickSize(3).tickPadding(4));
  ay.select(".domain").remove();
  ay.selectAll("line").attr("stroke","#7a7a7a");
  ay.selectAll("text").attr("font-family",FONT).attr("font-size",16.5).attr("fill","#000");
  if (id === "b") {
    ay.selectAll("text").filter(d=>d===90).text(null).call(t=>{
      t.append("tspan").text("[");
      t.append("tspan").attr("font-style","italic").text("J");
      t.append("tspan").text("]");
    });
  }
  const ax = g.append("g").attr("transform","translate(0,"+L.b+")")
    .call(d3.axisBottom(x).tickValues(X_TICKS).tickFormat(d=>d===2500?"[Iter]":String(d)).tickSize(3).tickPadding(6));
  ax.select(".domain").remove();
  ax.selectAll("line").attr("stroke","#7a7a7a");
  ax.selectAll("text").attr("font-family",FONT).attr("font-size",17).attr("fill","#000");

  // caption
  svg.append("text").attr("x",(L.l+L.r)/2-3).attr("y",L.b+45.5)
    .attr("text-anchor","middle").attr("dominant-baseline","middle")
    .attr("font-family",FONT).attr("font-size",21).attr("fill","#000").text(CAPTIONS[id]);
});

// legend
const LEG_X = [336, 622, 897];
const LEG_Y = [33, 64];
const leg = svg.append("g");
SERIES_KEYS.forEach((k,i) => {
  const cx = LEG_X[i%3], cy = LEG_Y[Math.floor(i/3)];
  leg.append("line").attr("x1",cx).attr("x2",cx+73).attr("y1",cy).attr("y2",cy)
     .attr("stroke",COLOR[k]).attr("stroke-width",9);
  leg.append("text").attr("x",cx+83).attr("y",cy).attr("dominant-baseline","middle")
     .attr("font-family",FONT).attr("font-size",21).attr("fill","#000").text(SERIES_NAMES[i]);
});

// justify caption lines by word spacing
document.querySelectorAll("#cap .ln.j").forEach(el => {
  const w = el.getBoundingClientRect().width;
  const n = (el.textContent.match(/ /g) || []).length;
  if (n > 0) el.style.wordSpacing = ((1536 - w) / n) + "px";
});

if (mismatches.length) throw new Error("length mismatch: "+mismatches.join(", "));
</script>
</body></html>
